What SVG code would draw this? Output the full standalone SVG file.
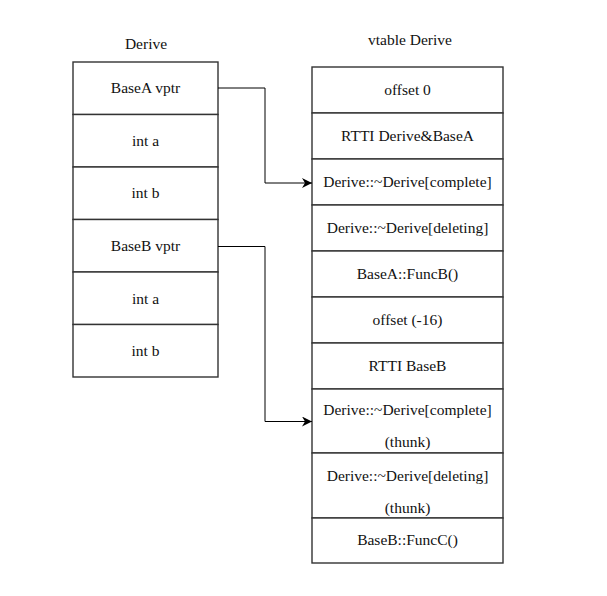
<svg xmlns="http://www.w3.org/2000/svg" width="607" height="596" viewBox="0 0 607 596">
  <style>
    .cell { fill: #ffffff; stroke: #333333; stroke-width: 1.4; }
    .t { font-family: "Liberation Serif", "DejaVu Serif", serif; font-size: 15.5px; fill: #111111; text-anchor: middle; }
    .conn { fill: none; stroke: #000000; stroke-width: 1; }
  </style>
  <defs>
    <marker id="arrow" viewBox="0 0 10 10" refX="10" refY="5" markerWidth="10" markerHeight="10" markerUnits="userSpaceOnUse" orient="auto">
      <path d="M0,0 L10,5 L0,10 L3,5 Z" fill="#000000"/>
    </marker>
  </defs>
  <rect width="607" height="596" fill="#ffffff"/>

  <!-- object layout of Derive -->
  <g id="derive">
    <text class="t" x="146" y="49">Derive</text>
    <g id="derive-basea-vptr"><rect class="cell" x="73" y="62" width="145" height="52.5"/><text class="t" x="145.5" y="93">BaseA vptr</text></g>
    <g id="derive-int-a1"><rect class="cell" x="73" y="114.5" width="145" height="52.5"/><text class="t" x="145.5" y="146">int a</text></g>
    <g id="derive-int-b1"><rect class="cell" x="73" y="167" width="145" height="52.5"/><text class="t" x="145.5" y="198">int b</text></g>
    <g id="derive-baseb-vptr"><rect class="cell" x="73" y="219.5" width="145" height="52.5"/><text class="t" x="145.5" y="251">BaseB vptr</text></g>
    <g id="derive-int-a2"><rect class="cell" x="73" y="272" width="145" height="52.5"/><text class="t" x="145.5" y="304">int a</text></g>
    <g id="derive-int-b2"><rect class="cell" x="73" y="324.5" width="145" height="52.5"/><text class="t" x="145.5" y="356">int b</text></g>
  </g>

  <!-- vtable of Derive -->
  <g id="vtable">
    <text class="t" x="410" y="45">vtable Derive</text>
    <g id="vt-offset0"><rect class="cell" x="312" y="67" width="191" height="46"/><text class="t" x="407.5" y="95">offset 0</text></g>
    <g id="vt-rtti-a"><rect class="cell" x="312" y="113" width="191" height="46"/><text class="t" x="407.5" y="141">RTTI Derive&amp;BaseA</text></g>
    <g id="vt-dtor-complete"><rect class="cell" x="312" y="159" width="191" height="46"/><text class="t" x="407.5" y="187">Derive::~Derive[complete]</text></g>
    <g id="vt-dtor-deleting"><rect class="cell" x="312" y="205" width="191" height="46"/><text class="t" x="407.5" y="233">Derive::~Derive[deleting]</text></g>
    <g id="vt-funcb"><rect class="cell" x="312" y="251" width="191" height="46"/><text class="t" x="407.5" y="279">BaseA::FuncB()</text></g>
    <g id="vt-offset16"><rect class="cell" x="312" y="297" width="191" height="46"/><text class="t" x="407.5" y="325">offset (-16)</text></g>
    <g id="vt-rtti-b"><rect class="cell" x="312" y="343" width="191" height="46"/><text class="t" x="407.5" y="371">RTTI BaseB</text></g>
    <g id="vt-thunk-complete"><rect class="cell" x="312" y="389" width="191" height="64"/><text class="t" x="407.5" y="415">Derive::~Derive[complete]</text><text class="t" x="407.5" y="447">(thunk)</text></g>
    <g id="vt-thunk-deleting"><rect class="cell" x="312" y="453" width="191" height="65"/><text class="t" x="407.5" y="481">Derive::~Derive[deleting]</text><text class="t" x="407.5" y="513">(thunk)</text></g>
    <g id="vt-funcc"><rect class="cell" x="312" y="518" width="191" height="45"/><text class="t" x="407.5" y="545">BaseB::FuncC()</text></g>
  </g>

  <!-- vptr connectors -->
  <g id="connectors">
    <path class="conn" d="M218,88 H265 V183 H312" marker-end="url(#arrow)"/>
    <path class="conn" d="M218,246.5 H265 V421.5 H312" marker-end="url(#arrow)"/>
  </g>
</svg>
